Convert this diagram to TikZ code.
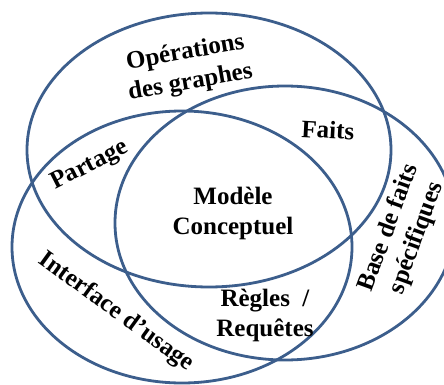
\documentclass[tikz,border=0pt]{standalone}
\usepackage{fontspec}
\setmainfont{Liberation Serif}
\definecolor{ringblue}{RGB}{60,94,140}
\begin{document}
\begin{tikzpicture}[x=1pt,y=-1pt,
  ring/.style={draw=ringblue,line width=2.8pt},
  lbl/.style={font=\fontsize{25}{30}\selectfont\bfseries,align=center,inner sep=0pt}]
\useasboundingbox (0,0) rectangle (444,385);
\clip (0,0) rectangle (444,385);
\draw[ring] (209,150) ellipse [x radius=182, y radius=137];
\draw[ring] (182,247) ellipse [x radius=170, y radius=136];
\draw[ring] (285,223) ellipse [x radius=170, y radius=137];
\node[lbl,rotate=10] (ops) at (188,68) {Opérations\\des graphes};
\node[lbl,rotate=-3] (faits) at (328,130) {Faits};
\node[lbl,rotate=27] (partage) at (90,166) {Partage};
\node[lbl] (modele) at (233,213) {Modèle\\Conceptuel};
\node[lbl,rotate=-36] (interface) at (116,312) {Interface d’usage};
\node[lbl] (regles) at (265,315) {Règles\ \ /\\Requêtes};
\node[lbl,rotate=70] (base) at (403,233) {Base de faits\\spécifiques};
\end{tikzpicture}
\end{document}
